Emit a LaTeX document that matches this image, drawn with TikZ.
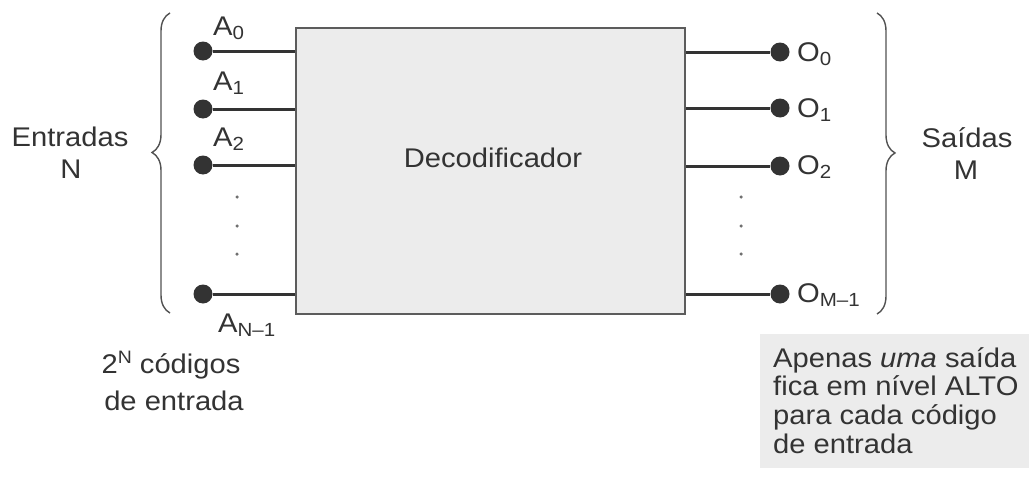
\documentclass[tikz,border=0pt]{standalone}
\usepackage{fontspec}
\setmainfont[FakeStretch=1.08]{Liberation Sans}
\usetikzlibrary{decorations.pathreplacing}
\definecolor{ink}{HTML}{333333}
\definecolor{boxfill}{HTML}{ECECEC}
\newcommand\mysub[1]{\raisebox{-4pt}{\fontsize{19}{19}\selectfont #1}}
\newcommand\mysup[1]{\raisebox{10pt}{\fontsize{18}{18}\selectfont #1}}
\begin{document}
\begin{tikzpicture}[x=1pt,y=-1pt,
  font=\fontsize{27}{29}\selectfont, text=ink,
  pin/.style={circle, fill=ink, minimum size=19pt, inner sep=0pt},
  wire/.style={line width=3pt, draw=ink},
  lbl/.style={inner sep=0pt, anchor=base west},
  txt/.style={inner sep=0pt, anchor=base},
  vdot/.style={circle, fill=ink!70, minimum size=3.5pt, inner sep=0pt},
  curly/.style={decorate, decoration={brace, amplitude=18pt, aspect=#1}, line width=1.4pt, draw=ink!85}]

\useasboundingbox (0,0) rectangle (1029,479);

% decoder box
\node[draw=ink!80, line width=2pt, fill=boxfill, minimum width=389pt, minimum height=286pt, inner sep=0pt] (dec) at (490.5,171) {};
\node[txt] (declbl) at (493,167) {Decodificador};

% input pins
\node[pin] (a0) at (203,51) {};
\node[pin] (a1) at (203,109) {};
\node[pin] (a2) at (203,165) {};
\node[pin] (an) at (203,294) {};
\foreach \p in {a0,a1,a2,an} \draw[wire] (\p) -- (\p -| dec.west);

\node[lbl] (la0) at (213,35) {A\mysub{0}};
\node[lbl] (la1) at (213,90) {A\mysub{1}};
\node[lbl] (la2) at (213,146) {A\mysub{2}};
\node[lbl] (lan) at (218,332) {A\mysub{N–1}};

\node[vdot] (ld1) at (237,197) {};
\node[vdot] (ld2) at (237,226) {};
\node[vdot] (ld3) at (237,254) {};

% output pins
\node[pin] (o0) at (780,52) {};
\node[pin] (o1) at (780,108) {};
\node[pin] (o2) at (780,166) {};
\node[pin] (om) at (780,294) {};
\foreach \p in {o0,o1,o2,om} \draw[wire] (\p -| dec.east) -- (\p);

\node[lbl] (lo0) at (797,61) {O\mysub{0}};
\node[lbl] (lo1) at (797,117) {O\mysub{1}};
\node[lbl] (lo2) at (797,174) {O\mysub{2}};
\node[lbl] (lom) at (797,302) {O\mysub{M–1}};

\node[vdot] (rd1) at (741,197) {};
\node[vdot] (rd2) at (741,226) {};
\node[vdot] (rd3) at (741,254) {};

% braces
\coordinate (lb1) at (170,313);
\coordinate (lb2) at (170,13);
\draw[curly=0.535] (lb1) -- (lb2);
\coordinate (rb1) at (877,13);
\coordinate (rb2) at (877,314);
\draw[curly=0.465] (rb1) -- (rb2);

\node[txt] (ent1) at (70,146) {Entradas};
\node[txt] (ent2) at (71,178) {N};
\node[txt] (sai1) at (967,147) {Saídas};
\node[txt] (sai2) at (966,179) {M};

\node[txt] (cod1) at (171,373) {2\mysup{N} códigos};
\node[txt] (cod2) at (174,410) {de entrada};

% note box
\node[fill=boxfill, inner sep=0pt, minimum width=269pt, minimum height=134pt, anchor=north west] (note) at (760,334) {};
\node[lbl] (n1) at (773,367) {Apenas \textit{uma} saída};
\node[lbl] (n2) at (773,395) {fica em nível ALTO};
\node[lbl] (n3) at (773,424) {para cada código};
\node[lbl] (n4) at (773,453) {de entrada};
\end{tikzpicture}
\end{document}
